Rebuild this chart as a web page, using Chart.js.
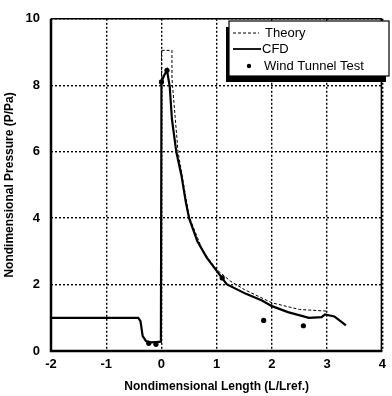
<!DOCTYPE html>
<html>
<head>
<meta charset="utf-8">
<script src="https://cdn.jsdelivr.net/npm/chart.js@4.4.1/dist/chart.umd.min.js"></script>
<style>
  html, body { margin: 0; padding: 0; background: #fff; }
  #wrap { width: 392px; height: 396px; }
</style>
</head>
<body>
<div id="wrap"><canvas id="pressureChart"></canvas></div>
<script>
        // CFD solution (solid line)
        const cfdX = [-2, -0.42, -0.38, -0.34, -0.28, -0.2, -0.1, -0.01, 0.0, 0.05, 0.1, 0.15, 0.19, 0.27, 0.36, 0.44, 0.5, 0.65, 0.82, 1.0, 1.18, 1.53, 1.82, 2.0, 2.29, 2.67, 2.9, 2.96, 3.13, 3.2, 3.34];
        const cfdY = [1.0, 1.0, 0.9, 0.45, 0.3, 0.26, 0.27, 0.28, 8.1, 8.3, 8.45, 7.96, 6.97, 5.98, 5.3, 4.49, 4.0, 3.3, 2.81, 2.41, 2.01, 1.72, 1.52, 1.35, 1.17, 1.0, 1.02, 1.1, 1.04, 0.95, 0.77];
        // theory (dashed line)
        const theoryX = [0, 0, 0.19, 0.19, 0.3, 0.5, 0.75, 1.0, 1.25, 1.5, 2.0, 2.5, 3.0];
        const theoryY = [8.0, 9.05, 9.05, 8.2, 6.0, 4.05, 3.0, 2.45, 2.1, 1.85, 1.45, 1.25, 1.2];
        // wind tunnel test (dots)
        const tunnelX = [-0.23, -0.1, 0.0, 0.1, 1.1, 1.85, 2.57];
        const tunnelY = [0.23, 0.2, 8.1, 8.45, 2.2, 0.92, 0.76];

        const xTicks = [-2, -1, 0, 1, 2, 3, 4];
        const yTicks = [0, 2, 4, 6, 8, 10];

        const toPts = (xs, ys) => xs.map((x, i) => ({ x: x, y: ys[i] }));

        const FONT = "'Liberation Sans', Arial, sans-serif";

        // frame round the plot + boxed legend in the top right corner
        const framePlugin = {
            id: 'frame',
            afterDraw(chart) {
                const { ctx, chartArea: a } = chart;
                ctx.save();
                ctx.strokeStyle = '#000';
                ctx.lineWidth = 1.5;
                ctx.beginPath();
                ctx.moveTo(a.left, a.top);
                ctx.lineTo(a.right - 1, a.top);
                ctx.lineTo(a.right - 1, a.bottom);
                ctx.stroke();
                ctx.lineWidth = 2.5;
                ctx.beginPath();
                ctx.moveTo(a.left, a.top);
                ctx.lineTo(a.left, a.bottom);
                ctx.lineTo(a.right, a.bottom);
                ctx.stroke();

                // legend box with shadow
                const bx = 229, by = 21, bw = 160, bh = 55;
                ctx.fillStyle = '#000';
                ctx.fillRect(bx - 3, by + 6, bw, bh);
                ctx.fillStyle = '#fff';
                ctx.fillRect(bx, by, bw, bh);
                ctx.lineWidth = 1.2;
                ctx.strokeRect(bx, by, bw, bh);

                ctx.font = '13px ' + FONT;
                ctx.fillStyle = '#000';
                ctx.textBaseline = 'middle';
                ctx.textAlign = 'left';

                ctx.lineWidth = 1;
                ctx.setLineDash([3, 2]);
                ctx.beginPath();
                ctx.moveTo(233, 33); ctx.lineTo(259, 33);
                ctx.stroke();
                ctx.setLineDash([]);
                ctx.fillText('Theory', 265, 33);

                ctx.lineWidth = 1.8;
                ctx.beginPath();
                ctx.moveTo(233, 49); ctx.lineTo(261, 49);
                ctx.stroke();
                ctx.fillText('CFD', 262, 49);

                ctx.beginPath();
                ctx.arc(249, 66, 2.2, 0, Math.PI * 2);
                ctx.fill();
                ctx.fillText('Wind Tunnel Test', 264, 66);
                ctx.restore();
            }
        };

        const data = {
            datasets: [
                {
                    label: 'Wind Tunnel Test',
                    data: toPts(tunnelX, tunnelY),
                    showLine: false,
                    pointRadius: 2.6,
                    pointBackgroundColor: '#000',
                    pointBorderWidth: 0,
                    order: 0
                },
                {
                    label: 'CFD',
                    data: toPts(cfdX, cfdY),
                    showLine: true,
                    borderColor: '#000',
                    borderWidth: 2.2,
                    pointRadius: 0,
                    tension: 0,
                    order: 1
                },
                {
                    label: 'Theory',
                    data: toPts(theoryX, theoryY),
                    showLine: true,
                    borderColor: '#000',
                    borderWidth: 1,
                    borderDash: [3, 2],
                    pointRadius: 0,
                    tension: 0,
                    order: 2
                }
            ]
        };

        const config = {
            type: 'scatter',
            data: data,
            options: {
                responsive: true,
                maintainAspectRatio: false,
                animation: false,
                layout: { padding: { top: 15, right: 1, left: 0, bottom: 0 } },
                plugins: {
                    legend: { display: false },
                    tooltip: { enabled: false }
                },
                scales: {
                    x: {
                        type: 'linear',
                        min: -2, max: 4,
                        afterBuildTicks: (s) => { s.ticks = xTicks.map(v => ({ value: v })); },
                        afterFit: (s) => { s.height = 45; },
                        ticks: { color: '#000', padding: 6, font: { family: FONT, size: 13, weight: 'bold' } },
                        grid: { color: '#000', lineWidth: 1.4, drawTicks: false },
                        border: { display: false, dash: [2, 2] },
                        title: { display: true, text: 'Nondimensional Length (L/Lref.)', color: '#000', padding: { top: 4, bottom: 2 }, font: { family: FONT, size: 12, weight: 'bold' } }
                    },
                    y: {
                        type: 'linear',
                        min: 0, max: 10,
                        afterBuildTicks: (s) => { s.ticks = yTicks.map(v => ({ value: v })); },
                        afterFit: (s) => { s.width = 51; },
                        ticks: { color: '#000', padding: 11, font: { family: FONT, size: 13, weight: 'bold' } },
                        grid: { color: '#000', lineWidth: 1.4, drawTicks: false },
                        border: { display: false, dash: [2, 2] },
                        title: { display: true, text: 'Nondimensional Pressure (P/Pa)', color: '#000', padding: { top: 2, bottom: 4 }, font: { family: FONT, size: 12, weight: 'bold' } }
                    }
                }
            },
            plugins: [framePlugin]
        };
        new Chart(document.getElementById('pressureChart'), config);
</script>
</body>
</html>
